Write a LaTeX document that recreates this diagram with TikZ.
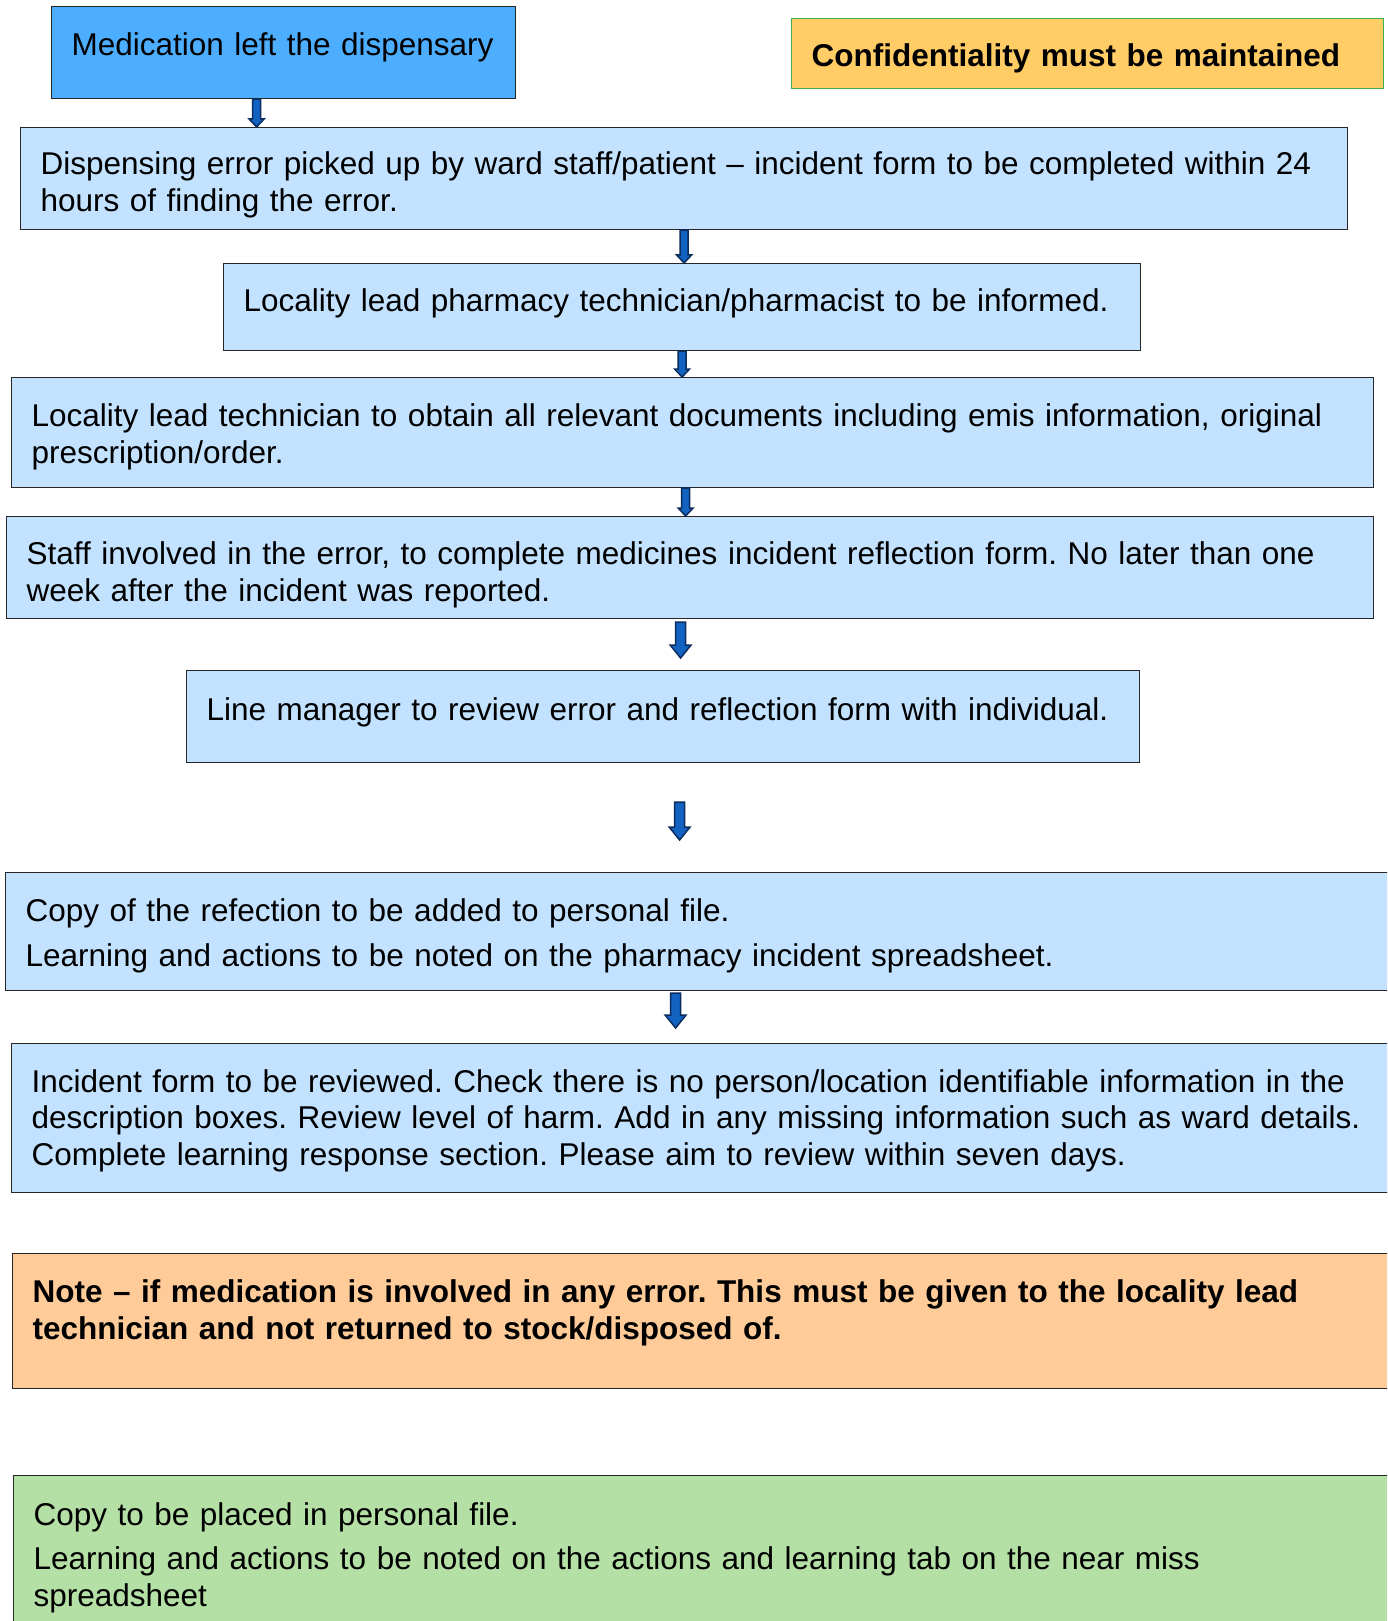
\documentclass[tikz,border=0pt]{standalone}
\usepackage{fontspec}
\setmainfont{Liberation Sans}
\usetikzlibrary{calc}
\frenchspacing
\hyphenpenalty=10000

\definecolor{startblue}{HTML}{4DAEFF}
\definecolor{stepblue}{HTML}{C2E2FF}
\definecolor{warnfill}{HTML}{FFCC66}
\definecolor{warnline}{HTML}{3CB34A}
\definecolor{notefill}{HTML}{FFCC99}
\definecolor{filegreen}{HTML}{B4DFA5}
\definecolor{arrowfill}{HTML}{1262C2}
\definecolor{arrowline}{HTML}{0B2D5E}

\tikzset{
    box/.style={draw=black!85, line width=1.2pt, fill=stepblue, anchor=north west,
        inner xsep=20pt, inner ysep=0pt, align=left,
        font=\fontsize{31.5}{36.7}\selectfont},
}

% struts: push text down / lift it up
\newcommand{\sink}[1]{\rule{0pt}{#1}}
\newcommand{\lift}[1]{\rule[-#1]{0pt}{0pt}}

% block arrow: half shaft, half head, head length, from, to
\newcommand{\blockarrow}[5]{%
    \filldraw[fill=arrowfill, draw=arrowline, line width=1.5pt]
        let \p1=#4, \p2=#5 in
        (\x1-#1,\y1) -- (\x1-#1,\y2+#3) -- (\x1-#2,\y2+#3) -- (\x1,\y2)
        -- (\x1+#2,\y2+#3) -- (\x1+#1,\y2+#3) -- (\x1+#1,\y1) -- cycle;}

\begin{document}
\begin{tikzpicture}[x=1pt, y=-1pt]

\useasboundingbox (0,0) rectangle (1387,1621);
\clip (0,0) rectangle (1387,1621);

% Kopf
\node[box, fill=startblue, text width=424pt, minimum height=92pt] (b1) at (51,6)
    {Medication left the dispensary\lift{18pt}};
\node[box, fill=warnfill, draw=warnline, text width=552pt, minimum height=70pt] (conf) at (791,18)
    {\sink{33pt}\textbf{Confidentiality must be maintained}};

% Schritte
\node[box, text width=1287pt, minimum height=102pt] (b2) at (20,127)
    {\sink{35pt}Dispensing error picked up by ward staff/patient – incident form to be completed within 24\\
     hours of finding the error.};
\node[box, text width=877pt, minimum height=87pt] (b3) at (223,263)
    {Locality lead pharmacy technician/pharmacist to be informed.\lift{14pt}};
\node[box, text width=1322pt, minimum height=110pt] (b4) at (11,377)
    {\sink{31pt}Locality lead technician to obtain all relevant documents including emis information, original\\
     prescription/order.};
\node[box, text width=1327pt, minimum height=102pt] (b5) at (6,516)
    {\sink{37pt}Staff involved in the error, to complete medicines incident reflection form. No later than one\\
     week after the incident was reported.};
\node[box, text width=913pt, minimum height=92pt] (b6) at (186,670)
    {Line manager to review error and reflection form with individual.\lift{16pt}};
\node[box, text width=1360pt, minimum height=118pt] (b7) at (5,872)
    {\sink{31pt}Copy of the refection to be added to personal file.\\[8pt]
     Learning and actions to be noted on the pharmacy incident spreadsheet.};
\node[box, text width=1360pt, minimum height=149pt] (b8) at (11,1043)
    {\sink{28pt}Incident form to be reviewed. Check there is no person/location identifiable information in the\\
     description boxes. Review level of harm. Add in any missing information such as ward details.\\
     Complete learning response section. Please aim to review within seven days.};

% Hinweise
\node[box, fill=notefill, text width=1360pt, minimum height=135pt] (note) at (12,1253)
    {\textbf{Note – if medication is involved in any error. This must be given to the locality lead}\\
     \textbf{technician and not returned to stock/disposed of.}\lift{23pt}};
\node[box, fill=filegreen, text width=1360pt, minimum height=158pt] (file) at (13,1475)
    {\sink{29pt}Copy to be placed in personal file.\\[8pt]
     Learning and actions to be noted on the actions and learning tab on the near miss\\
     spreadsheet};

% Pfeile
\blockarrow{4pt}{7.5pt}{8pt}{($(b1.south)+(-27,0)$)}{(b2.north)}
\blockarrow{4pt}{7.5pt}{8pt}{(b2.south)}{(b3.north)}
\blockarrow{4pt}{7.5pt}{8pt}{(b3.south)}{(b4.north)}
\blockarrow{4pt}{7.5pt}{8pt}{($(b4.south)+(-7,0)$)}{(b5.north)}
\blockarrow{5pt}{10.5pt}{13pt}{($(b5.south)+(-9.5,3)$)}{($(b6.north)+(0,-12)$)}
\blockarrow{5pt}{10.5pt}{13pt}{($(b6.south)+(16.5,39)$)}{($(b7.north)+(0,-32)$)}
\blockarrow{5pt}{10.5pt}{13pt}{($(b7.south)+(-30,2)$)}{($(b8.north)+(0,-15)$)}

\end{tikzpicture}
\end{document}
